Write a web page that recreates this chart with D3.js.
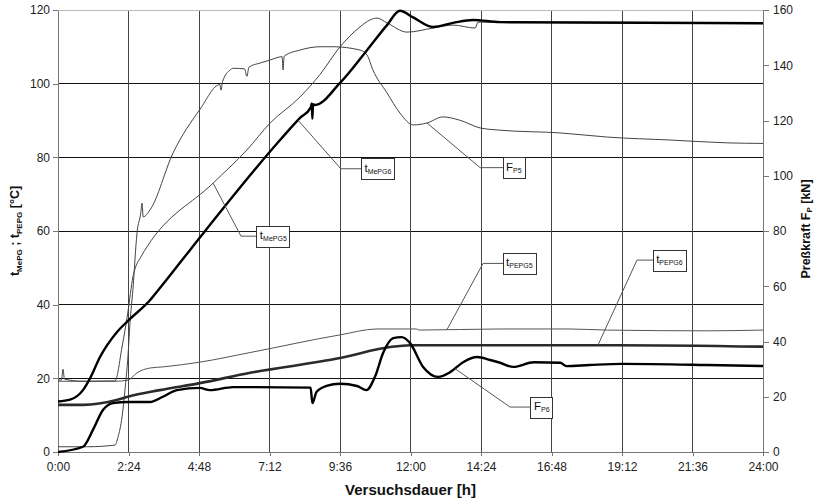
<!DOCTYPE html>
<html>
<head>
<meta charset="utf-8">
<script src="https://cdn.jsdelivr.net/npm/d3@7"></script>
<style>
  body { margin:0; background:#fff; }
  svg { display:block; font-family: Arial, "Liberation Sans", sans-serif; }
</style>
</head>
<body>
<div id="chart"></div>
<script>
var width = 816
var height = 501
var padding = {top:10, bottom:49, left:58, right:53}

// time in hours, ticks every 2:24
var xDomain = [0,24]
var xTickLabels = ["0:00","2:24","4:48","7:12","9:36","12:00","14:24","16:48","19:12","21:36","24:00"]
var yDomainLeft = [0,120]
var yDomainRight = [0,160]
var yTicksLeft = [0,20,40,60,80,100,120]
var yTicksRight = [0,20,40,60,80,100,120,140,160]

// [hours, °C]
var tMePG5 = [[0,19.5],[0.12,19.6],[0.17,22.5],[0.22,19.8],[0.85,19.2],[1.94,19.3],[2.18,28.5],[2.38,38],
  [2.55,47.5],[2.86,53.5],[3.03,55.7],[5.28,73],[6.43,82],[7.22,89.3],[8.24,96.4],[8.92,102.5],[9.6,110],
  [10.28,115.4],[10.62,117.3],[10.86,117.8],[11.2,116.5],[11.88,114],[12.77,115.1],[13.45,115.9],
  [14.2,115.1],[14.3,116.7],[18,116.5],[24,116.3]]

var tMePG6 = [[0,13.7],[0.41,14.2],[0.85,16.8],[1.09,20],[1.43,25.8],[2.01,32.6],[2.38,35.6],[3.13,41.2],
  [3.47,44.5],[4.49,54.8],[7.56,84.7],[8.24,90.7],[8.6,93.5],[8.64,94.6],[8.66,90.5],[8.68,94.4],[8.75,94.2],
  [9.6,100.2],[10.52,109.1],[11.2,115.9],[11.64,119.8],[12.09,118],[12.77,115.4],[13.45,116.5],
  [14.13,117.3],[15.05,116.7],[18,116.6],[24,116.4]]

var tPEPG5 = [[0,19.2],[1,19.2],[1.94,19.2],[2.38,19.5],[2.69,21.5],[3.13,22.8],[3.57,23.1],[4.83,24.4],
  [6.54,27],[9.6,31.8],[10.86,33.4],[12.2,33.4],[12.3,33.1],[15.05,33.4],[17.4,33.4],[18.7,33.1],
  [22.1,32.9],[24,33.1]]

var tPEPG6 = [[0,12.8],[0.85,12.8],[2,14.1],[2.38,15],[3.47,16.8],[4.83,18.7],[6.54,21.5],[9.6,25.5],
  [11.3,28.5],[12,29],[15.05,29],[19,29],[24,28.6]]

// [hours, kN]
var FP5 = [[0,1.9],[1,1.9],[1.94,2.5],[2.04,5.3],[2.18,12.7],[2.28,22.4],[2.38,34.4],[2.45,46.7],
  [2.55,58.7],[2.69,79.3],[2.82,86.7],[2.86,90.1],[2.9,85.1],[3.13,87.6],[3.92,108.3],[4.83,124],
  [5.51,133],[5.55,131],[5.6,134],[5.86,138.3],[5.96,138.9],[6.35,138.7],[6.43,136],[6.5,139.3],
  [6.88,140.8],[7.22,141.9],[7.63,143.1],[7.66,138.3],[7.7,143.3],[8.24,145.5],[8.92,146.7],
  [9.36,146.7],[10.28,145.5],[10.52,143.7],[10.72,138.3],[11.2,130],[11.64,122.7],[12.09,118.4],
  [12.56,119.1],[13.1,121.3],[13.68,120.1],[14.37,117.3],[15.05,116.5],[17.1,115.5],[18.7,114],
  [20.9,112.9],[22.8,111.9],[24,111.7]]

var FP6 = [[0,0],[0.85,1.9],[1.19,8],[1.53,15.2],[1.87,17.7],[2.38,18.1],[3.13,18.1],[3.57,20],
  [4.05,22.4],[4.83,23.2],[5.17,22.4],[5.96,23.5],[6.54,23.5],[8.6,23.3],[8.66,17.7],[8.8,21.7],
  [9.14,23.9],[9.6,24.7],[10.18,23.9],[10.5,22.4],[10.79,27.2],[11.07,35.9],[11.41,41.2],[11.7,41.6],
  [11.98,39.5],[12.43,30.8],[12.94,27.2],[13.35,28.9],[13.79,32.5],[14.27,34.4],[14.71,33.3],
  [15.05,32.3],[15.5,30.8],[16.2,32.5],[17.1,32.3],[17.3,31.1],[18.1,31.5],[19.2,31.9],[22.1,31.5],
  [24,31.1]]

var series = [
  {name:"tPEPG5", data:tPEPG5, axis:"left",  color:"#555", w:1},
  {name:"tMePG5", data:tMePG5, axis:"left",  color:"#444", w:1},
  {name:"FP5",    data:FP5,    axis:"right", color:"#444", w:1},
  {name:"tPEPG6", data:tPEPG6, axis:"left",  color:"#2a2a2a", w:2.6},
  {name:"FP6",    data:FP6,    axis:"right", color:"#000", w:2.4},
  {name:"tMePG6", data:tMePG6, axis:"left",  color:"#000", w:2.4}
]

// label boxes: leader starts on the curve at "from" hours, bends at elbow, ends at box (°C units)
var labels = [
  {series:"tMePG5", main:"t", sub:"MePG5", from:5.28,  elbow:[6.23,58.6],  box:6.77},
  {series:"tMePG6", main:"t", sub:"MePG6", from:8.17,  elbow:[9.63,76.9],  box:10.33},
  {series:"FP5",    main:"F", sub:"P5",    from:12.56, elbow:[14.37,77.2], box:15.15},
  {series:"tPEPG5", main:"t", sub:"PEPG5", from:13.24, elbow:[14.47,51.2], box:15.15},
  {series:"tPEPG6", main:"t", sub:"PEPG6", from:18.38, elbow:[19.71,52.1], box:20.26},
  {series:"FP6",    main:"F", sub:"P6",    from:13.51, elbow:[15.39,12.2], box:16.1}
]

var svg = d3.select('#chart')
  .append('svg')
  .attr('width', width)
  .attr('height', height)

var x = d3.scaleLinear().domain(xDomain).range([padding.left, width-padding.right])
var yLeft = d3.scaleLinear().domain(yDomainLeft).range([height-padding.bottom, padding.top])
var yRight = d3.scaleLinear().domain(yDomainRight).range([height-padding.bottom, padding.top])
var xTickValues = xTickLabels.map(function(d,i){return i*2.4})

// grid
svg.append('g').selectAll('line')
  .data(yTicksLeft.filter(function(d){return d>0 && d<120}))
  .enter().append('line')
  .attr('x1', x(0)).attr('x2', x(24))
  .attr('y1', function(d){return yLeft(d)}).attr('y2', function(d){return yLeft(d)})
  .attr('stroke', '#111').attr('stroke-width', 1)
  .attr('shape-rendering', 'crispEdges')
svg.append('g').selectAll('line')
  .data(xTickValues.slice(1, -1))
  .enter().append('line')
  .attr('y1', yLeft(0)).attr('y2', yLeft(120))
  .attr('x1', function(d){return x(d)}).attr('x2', function(d){return x(d)})
  .attr('stroke', '#444').attr('stroke-width', 1)
  .attr('shape-rendering', 'crispEdges')
// top border
svg.append('line')
  .attr('x1', x(0)).attr('x2', x(24)).attr('y1', yLeft(120)).attr('y2', yLeft(120))
  .attr('stroke', '#bbb').attr('shape-rendering', 'crispEdges')

// axes
var xAxis = d3.axisBottom(x).tickValues(xTickValues)
  .tickFormat(function(d,i){return xTickLabels[i]}).tickSize(4).tickSizeOuter(0).tickPadding(6)
var leftAxis = d3.axisLeft(yLeft).tickValues(yTicksLeft).tickSize(5).tickSizeOuter(0).tickPadding(3)
var rightAxis = d3.axisRight(yRight).tickValues(yTicksRight).tickSize(6).tickSizeOuter(0).tickPadding(4)

function styleAxis(g) {
  g.select('.domain').attr('stroke', '#777').attr('shape-rendering', 'crispEdges')
  g.selectAll('.tick line').attr('stroke', '#777').attr('shape-rendering', 'crispEdges')
  g.selectAll('text').attr('font-size', 12).attr('fill', '#222')
    .attr('font-family', 'Arial, "Liberation Sans", sans-serif')
}

svg.append('g').attr('transform', 'translate(0,' + yLeft(0) + ')').call(xAxis).call(styleAxis)
svg.append('g').attr('transform', 'translate(' + x(0) + ',0)').call(leftAxis).call(styleAxis)
svg.append('g').attr('transform', 'translate(' + x(24) + ',0)').call(rightAxis).call(styleAxis)

// series lines
series.forEach(function(s) {
  var yScale = s.axis == "left" ? yLeft : yRight
  var line = d3.line()
    .x(function(d){return x(d[0])})
    .y(function(d){return yScale(d[1])})
    .curve(d3.curveMonotoneX)
  svg.append('path')
    .datum(s.data)
    .attr('fill', 'none')
    .attr('stroke', s.color)
    .attr('stroke-width', s.w)
    .attr('stroke-linejoin', 'round')
    .attr('d', line)
})

// value on a series at hour h (linear between points)
function valueAt(data, h) {
  for (var i = 1; i < data.length; i++) {
    if (data[i][0] >= h) {
      var a = data[i-1], b = data[i]
      return a[1] + (b[1]-a[1]) * (h-a[0]) / (b[0]-a[0])
    }
  }
  return data[data.length-1][1]
}

// labels with leader lines
labels.forEach(function(l) {
  var s = series.filter(function(d){return d.name == l.series})[0]
  var yScale = s.axis == "left" ? yLeft : yRight
  var p0 = [x(l.from), yScale(valueAt(s.data, l.from))]
  var p1 = [x(l.elbow[0]), yLeft(l.elbow[1])]
  var p2 = [x(l.box), yLeft(l.elbow[1])]
  svg.append('path')
    .attr('d', d3.line()([p0, p1, p2]))
    .attr('fill', 'none').attr('stroke', '#555').attr('stroke-width', 1)

  var g = svg.append('g')
  var rect = g.append('rect')
  var text = g.append('text')
    .attr('x', p2[0] + 3).attr('y', p2[1] + 3)
    .attr('fill', '#111')
  text.append('tspan').text(l.main).attr('font-size', 11.5)
  text.append('tspan').text(l.sub).attr('font-size', 7).attr('dy', 2)
  var bb = text.node().getBBox()
  rect.attr('x', p2[0]).attr('y', p2[1] - 10)
    .attr('width', Math.round(bb.width + 6)).attr('height', 21)
    .attr('fill', '#fff').attr('stroke', '#333').attr('stroke-width', 1)
    .attr('shape-rendering', 'crispEdges')
})

// axis titles
var leftTitle = svg.append('text')
  .attr('transform', 'translate(19,' + 231 + ') rotate(-90)')
  .attr('text-anchor', 'middle').attr('font-weight', 'bold').attr('font-size', 12.5).attr('fill', '#111')
leftTitle.append('tspan').text('t')
leftTitle.append('tspan').text('MePG').attr('font-size', 8).attr('dy', 3)
leftTitle.append('tspan').text(' ; t').attr('dy', -3)
leftTitle.append('tspan').text('PEPG').attr('font-size', 8).attr('dy', 3)
leftTitle.append('tspan').text(' [°C]').attr('dy', -3)

var rightTitle = svg.append('text')
  .attr('transform', 'translate(810,' + 229 + ') rotate(-90)')
  .attr('text-anchor', 'middle').attr('font-weight', 'bold').attr('font-size', 12.5).attr('fill', '#111')
rightTitle.append('tspan').text('Preßkraft F')
rightTitle.append('tspan').text('P').attr('font-size', 8).attr('dy', 2)
rightTitle.append('tspan').text(' [kN]').attr('dy', -2)

svg.append('text')
  .attr('x', (x(0) + x(24)) / 2).attr('y', 495)
  .attr('text-anchor', 'middle').attr('font-weight', 'bold').attr('font-size', 15).attr('fill', '#111')
  .text('Versuchsdauer [h]')
</script>
</body>
</html>
